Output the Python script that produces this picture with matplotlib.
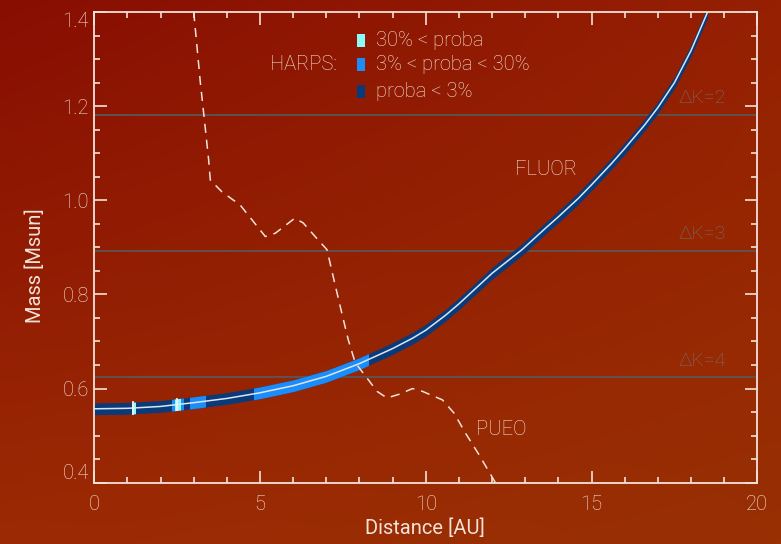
import numpy as np
import matplotlib
matplotlib.use('Agg')
import matplotlib.pyplot as plt
from matplotlib.patches import Rectangle

# FLUOR detection limit: companion mass vs separation
fluor_dist = [0, 1, 2, 3, 4, 5, 6, 7, 8, 9, 9.6, 10, 10.6, 11, 11.6, 12, 12.9, 13.6,
              14, 14.6, 15, 15.6, 16, 16.6, 17, 17.5, 18, 18.5]
fluor_mass = [0.557, 0.558, 0.562, 0.570, 0.579, 0.591, 0.606, 0.626, 0.653, 0.685, 0.707, 0.724,
              0.756, 0.780, 0.819, 0.845, 0.895, 0.940, 0.965, 1.004, 1.033, 1.078, 1.110, 1.160,
              1.197, 1.250, 1.318, 1.40]

# PUEO detection limit
pueo_dist = [3.0, 3.2, 3.3, 3.45, 3.5, 3.85, 4.4, 5.16, 5.46, 6.05, 6.3, 6.75, 7.02, 7.17,
             7.42, 7.66, 7.87, 8.23, 8.53, 8.83, 9.2, 9.6, 9.9, 10.5, 10.85, 11.2, 11.6, 12.1]
pueo_mass = [1.40, 1.25, 1.185, 1.086, 1.043, 1.018, 0.99, 0.923, 0.93, 0.962, 0.952, 0.916,
             0.895, 0.849, 0.774, 0.704, 0.655, 0.622, 0.594, 0.580, 0.588, 0.600, 0.594,
             0.576, 0.548, 0.505, 0.46, 0.40]

# contrast limits
dk_levels = [1.182, 0.893, 0.624]
dk_labels = ['ΔK=2', 'ΔK=3', 'ΔK=4']

# HARPS probability ranges along the FLUOR curve (distance intervals)
harps_mid = [(2.34, 2.44), (2.59, 2.69), (2.90, 3.35), (4.81, 8.25)]
harps_high = [(1.14, 1.22), (2.44, 2.59)]
harps_mark_dist = [1.18, 2.51]
harps_mark_mass = [0.559, 0.566]

legend_labels = ['30% < proba', '3% < proba < 30%', 'proba < 3%']

fg = '#F2E2D8'
c_low = '#0B3A7A'
c_mid = '#1C8CF8'
c_high = '#8CFAF8'
colors = [c_high, c_mid, c_low]

plt.rcParams['font.family'] = ['Roboto', 'DejaVu Sans']
plt.rcParams['font.weight'] = 'light'

fig = plt.figure(figsize=(7.81, 5.44), dpi=100)

# background
bg = fig.add_axes([0, 0, 1, 1])
u = np.linspace(0, 1, 200)[None, :, None]
v = np.linspace(0, 1, 150)[:, None, None]
tl = np.array([136, 14, 2]) / 255
tr = np.array([150, 32, 2]) / 255
bl = np.array([156, 42, 4]) / 255
br = np.array([152, 48, 4]) / 255
img = (1 - u) * (1 - v) * tl + u * (1 - v) * tr + (1 - u) * v * bl + u * v * br
bg.imshow(img, aspect='auto', extent=[0, 1, 0, 1], origin='upper')
bg.axis('off')

ax = fig.add_axes([0.1207, 0.1127, 0.8490, 0.8652])
ax.set_facecolor('none')
ax.set_xlim(0, 20)
ax.set_ylim(0.4, 1.4)

for lev, lab in zip(dk_levels, dk_labels):
    ax.axhline(lev, color='#5C5652', lw=1.3, zorder=1)
    ax.text(19.05, lev + 0.016, lab, color='#74706C', fontsize=14, ha='right', va='bottom')

# FLUOR band
half = 0.0125
fx = np.array(fluor_dist)
fm = np.array(fluor_mass)
ax.fill_between(fx, fm - half, fm + half, color=c_low, lw=0, zorder=3)
for segs, col in [(harps_mid, c_mid), (harps_high, c_high)]:
    for a, b in segs:
        poly = ax.fill_between(fx, fm - half, fm + half, color=col, lw=0, zorder=4)
        clip = Rectangle((a, 0), b - a, 2, transform=ax.transData)
        poly.set_clip_path(clip)
ax.plot(fx, fm, color='#D8E8F2', lw=1.1, zorder=5)
for d, m in zip(harps_mark_dist, harps_mark_mass):
    ax.plot([d, d], [m - half, m + half], color='#E8F4F8', lw=1.3, zorder=6)

# PUEO
ax.plot(pueo_dist, pueo_mass, color=fg, lw=1.1, dashes=(6, 4.5), zorder=6)

ax.text(12.7, 1.065, 'FLUOR', color=fg, fontsize=14.5, va='center')
ax.text(11.5, 0.513, 'PUEO', color=fg, fontsize=14.5, va='center')

# HARPS legend
ax.text(5.3, 1.288, 'HARPS:', color=fg, fontsize=14.5, va='center')
leg_y = [1.339, 1.288, 1.232]
for yy, lab, col in zip(leg_y, legend_labels, colors):
    ax.add_patch(Rectangle((7.93, yy - 0.014), 0.24, 0.028, color=col, lw=0, zorder=6))
    ax.text(8.5, yy, lab, color=fg, fontsize=14.5, va='center')

# axes styling
ax.set_xticks([0, 5, 10, 15, 20])
ax.set_xticks(np.arange(0, 21, 1), minor=True)
ax.set_yticks([0.4, 0.6, 0.8, 1.0, 1.2, 1.4])
ax.set_yticklabels(['0.4', '0.6', '0.8', '1.0', '1.2', '1.4'])
ax.set_yticks(np.arange(0.4, 1.41, 0.05), minor=True)
ax.tick_params(which='both', direction='in', top=True, right=True, colors=fg, width=1.2)
ax.tick_params(which='major', length=9, labelsize=14.5)
ax.tick_params(which='minor', length=4.5)
ax.tick_params(axis='x', pad=9)
ax.tick_params(axis='y', pad=4)
for sp in ax.spines.values():
    sp.set_color(fg)
    sp.set_linewidth(1.3)
    sp.set_zorder(7)

yt = ax.yaxis.get_major_ticks()
yt[0].label1.set_va('bottom')
yt[-1].label1.set_va('top')

ax.set_xlabel('Distance [AU]', color=fg, fontsize=14.5)
ax.set_ylabel('Mass [Msun]', color=fg, fontsize=14.5)
ax.xaxis.set_label_coords(0.499, -0.096)
ax.xaxis.label.set_va('center')
ax.yaxis.set_label_coords(-0.089, 0.462)
ax.yaxis.label.set_va('center')

fig.savefig('out.png', dpi=100, facecolor='#951F02')
